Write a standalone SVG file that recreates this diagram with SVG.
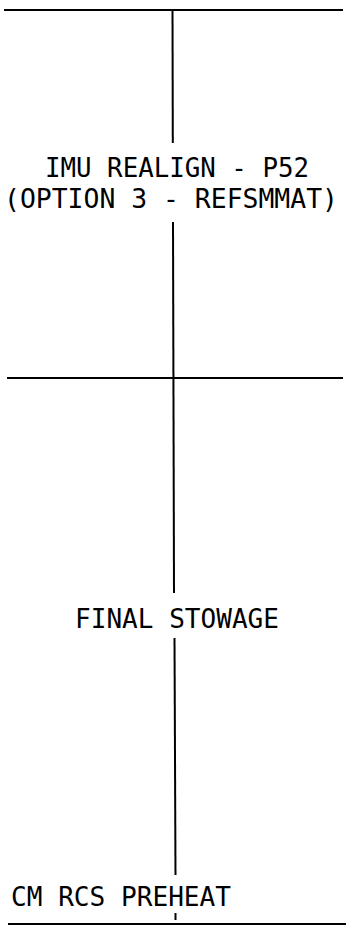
<svg xmlns="http://www.w3.org/2000/svg" width="346" height="926" viewBox="0 0 346 926">
<style>
.ln{stroke:#000;stroke-width:2;fill:none}
.t{font-family:"DejaVu Sans Mono","Liberation Mono",monospace;font-size:27px;fill:#000}
</style>
<rect width="346" height="926" fill="#fff"/>
<g id="connectors">
<line class="ln" x1="4" y1="10" x2="343" y2="10"/>
<line class="ln" x1="7" y1="378" x2="343" y2="378"/>
<line class="ln" x1="8" y1="924" x2="346" y2="924"/>
<line class="ln" x1="172.5" y1="10" x2="172.8" y2="143"/>
<line class="ln" x1="173" y1="222" x2="174" y2="593"/>
<line class="ln" x1="174.5" y1="638" x2="175.5" y2="875"/>
<line class="ln" x1="175.5" y1="913" x2="175.5" y2="920"/>
</g>
<g id="imu-realign">
<text class="t" x="45" y="176.5" textLength="264" lengthAdjust="spacingAndGlyphs">IMU REALIGN - P52</text>
<text class="t" x="4" y="207.5" textLength="334" lengthAdjust="spacingAndGlyphs">(OPTION 3 - REFSMMAT)</text>
</g>
<g id="final-stowage">
<text class="t" x="75" y="628" textLength="204" lengthAdjust="spacingAndGlyphs">FINAL STOWAGE</text>
</g>
<g id="cm-rcs-preheat">
<text class="t" x="11" y="906" textLength="220" lengthAdjust="spacingAndGlyphs">CM RCS PREHEAT</text>
</g>
</svg>
